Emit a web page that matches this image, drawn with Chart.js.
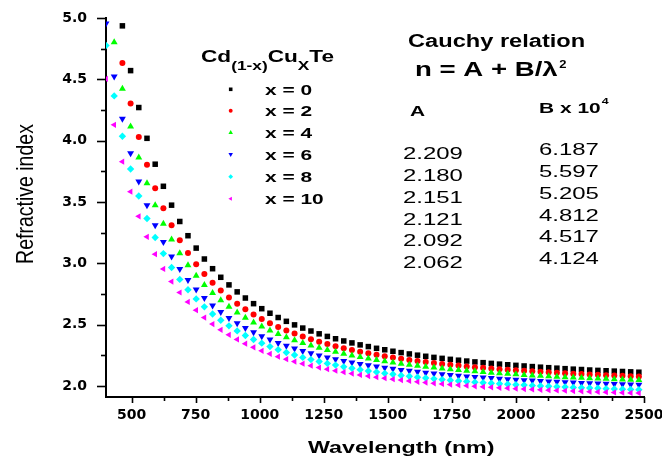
<!DOCTYPE html>
<html>
<head>
<meta charset="utf-8">
<script src="https://cdn.jsdelivr.net/npm/chart.js@4.4.0/dist/chart.umd.min.js"></script>
<style>
  html, body { margin: 0; padding: 0; background: #fff; }
</style>
</head>
<body>
<canvas id="cauchyChart" width="662" height="460"></canvas>
<script>
// wavelength grid (nm)
const wavelength = [
  400, 432, 464, 496, 528, 560, 592, 624, 656, 688,
  720, 752, 784, 816, 848, 880, 912, 944, 976, 1008,
  1040, 1072, 1104, 1136, 1168, 1200, 1232, 1264, 1296, 1328,
  1360, 1392, 1424, 1456, 1488, 1520, 1552, 1584, 1616, 1648,
  1680, 1712, 1744, 1776, 1808, 1840, 1872, 1904, 1936, 1968,
  2000, 2032, 2064, 2096, 2128, 2160, 2192, 2224, 2256, 2288,
  2320, 2352, 2384, 2416, 2448, 2480
];

// refractive index per composition (null = off scale)
const nX0 = [
  null, null, 4.936, 4.571, 4.270, 4.019, 3.808, 3.628, 3.474, 3.341,
  3.225, 3.124, 3.035, 2.956, 2.886, 2.824, 2.767, 2.717, 2.671, 2.630,
  2.593, 2.558, 2.527, 2.498, 2.472, 2.448, 2.425, 2.404, 2.385, 2.367,
  2.351, 2.335, 2.321, 2.307, 2.295, 2.283, 2.272, 2.261, 2.251, 2.242,
  2.233, 2.225, 2.217, 2.210, 2.203, 2.196, 2.190, 2.184, 2.178, 2.173,
  2.168, 2.163, 2.158, 2.153, 2.149, 2.145, 2.141, 2.137, 2.134, 2.130,
  2.127, 2.124, 2.121, 2.118, 2.115, 2.112
];
const nX2 = [
  null, null, 4.633, 4.302, 4.030, 3.803, 3.611, 3.449, 3.310, 3.189,
  3.085, 2.993, 2.912, 2.841, 2.778, 2.721, 2.670, 2.625, 2.583, 2.546,
  2.512, 2.481, 2.453, 2.427, 2.403, 2.381, 2.361, 2.342, 2.324, 2.308,
  2.293, 2.279, 2.266, 2.254, 2.242, 2.232, 2.222, 2.212, 2.203, 2.195,
  2.187, 2.180, 2.172, 2.166, 2.159, 2.153, 2.148, 2.142, 2.137, 2.132,
  2.128, 2.123, 2.119, 2.115, 2.111, 2.107, 2.104, 2.100, 2.097, 2.094,
  2.091, 2.088, 2.085, 2.083, 2.080, 2.078
];
const nX4 = [
  null, 4.802, 4.424, 4.116, 3.863, 3.652, 3.474, 3.323, 3.194, 3.082,
  2.984, 2.899, 2.824, 2.758, 2.699, 2.646, 2.599, 2.557, 2.518, 2.484,
  2.452, 2.423, 2.397, 2.373, 2.351, 2.330, 2.311, 2.294, 2.278, 2.263,
  2.249, 2.236, 2.223, 2.212, 2.201, 2.191, 2.182, 2.173, 2.165, 2.157,
  2.150, 2.143, 2.136, 2.130, 2.124, 2.119, 2.113, 2.108, 2.103, 2.099,
  2.095, 2.090, 2.086, 2.083, 2.079, 2.076, 2.072, 2.069, 2.066, 2.063,
  2.060, 2.058, 2.055, 2.053, 2.050, 2.048
];
const nX6 = [
  4.955, 4.524, 4.178, 3.897, 3.666, 3.473, 3.311, 3.173, 3.055, 2.953,
  2.864, 2.786, 2.717, 2.657, 2.603, 2.555, 2.512, 2.473, 2.438, 2.406,
  2.378, 2.351, 2.327, 2.305, 2.285, 2.266, 2.249, 2.233, 2.218, 2.204,
  2.192, 2.180, 2.169, 2.158, 2.149, 2.140, 2.131, 2.123, 2.115, 2.108,
  2.102, 2.095, 2.089, 2.083, 2.078, 2.073, 2.068, 2.064, 2.059, 2.055,
  2.051, 2.047, 2.044, 2.040, 2.037, 2.034, 2.031, 2.028, 2.025, 2.022,
  2.020, 2.018, 2.015, 2.013, 2.011, 2.009
];
const nX8 = [
  4.776, 4.365, 4.036, 3.769, 3.549, 3.365, 3.210, 3.079, 2.966, 2.869,
  2.784, 2.710, 2.645, 2.587, 2.536, 2.490, 2.449, 2.412, 2.379, 2.349,
  2.321, 2.296, 2.273, 2.252, 2.233, 2.215, 2.199, 2.184, 2.170, 2.156,
  2.144, 2.133, 2.122, 2.113, 2.103, 2.095, 2.086, 2.079, 2.072, 2.065,
  2.058, 2.052, 2.047, 2.041, 2.036, 2.031, 2.027, 2.022, 2.018, 2.014,
  2.010, 2.007, 2.003, 2.000, 1.997, 1.994, 1.991, 1.988, 1.986, 1.983,
  1.981, 1.978, 1.976, 1.974, 1.972, 1.970
];
const nX10 = [
  4.504, 4.129, 3.829, 3.584, 3.383, 3.216, 3.074, 2.954, 2.851, 2.762,
  2.685, 2.618, 2.558, 2.505, 2.458, 2.417, 2.379, 2.345, 2.315, 2.287,
  2.262, 2.239, 2.218, 2.199, 2.182, 2.165, 2.150, 2.137, 2.124, 2.112,
  2.101, 2.090, 2.081, 2.072, 2.063, 2.055, 2.048, 2.041, 2.034, 2.028,
  2.022, 2.017, 2.011, 2.007, 2.002, 1.997, 1.993, 1.989, 1.985, 1.982,
  1.978, 1.975, 1.972, 1.969, 1.966, 1.963, 1.961, 1.958, 1.956, 1.953,
  1.951, 1.949, 1.947, 1.945, 1.943, 1.942
];

// composition labels and Cauchy fit coefficients
const compositions = [0, 2, 4, 6, 8, 10];
const cauchyA = [2.209, 2.180, 2.151, 2.121, 2.092, 2.062];
const cauchyB = [6.187, 5.597, 5.205, 4.812, 4.517, 4.124];

// axis ticks (major every 250 nm / 0.5, minor in between)
const xTickValues = [500, 625, 750, 875, 1000, 1125, 1250, 1375, 1500, 1625, 1750, 1875, 2000, 2125, 2250, 2375, 2500];
const yTickValues = [2.0, 2.25, 2.5, 2.75, 3.0, 3.25, 3.5, 3.75, 4.0, 4.25, 4.5, 4.75, 5.0];

const seriesValues = [nX0, nX2, nX4, nX6, nX8, nX10];
const markers = [
  { color: '#000000', style: 'rect', radius: 3.9, rotation: 0 },
  { color: '#ff0000', style: 'circle', radius: 3.0, rotation: 0 },
  { color: '#00ff00', style: 'triangle', radius: 4.0, rotation: 0 },
  { color: '#0000ff', style: 'triangle', radius: 4.0, rotation: 180 },
  { color: '#00ffff', style: 'rectRot', radius: 3.7, rotation: 0 },
  { color: '#ff00ff', style: 'triangle', radius: 3.6, rotation: 270 }
];

const datasets = seriesValues.map((vals, k) => ({
  label: 'x = ' + compositions[k],
  data: wavelength.map((w, i) => ({ x: w, y: vals[i] })).filter(p => p.y !== null),
  showLine: false,
  pointStyle: markers[k].style,
  pointRotation: markers[k].rotation,
  pointRadius: markers[k].radius,
  pointBackgroundColor: markers[k].color,
  pointBorderWidth: 0,
  order: 6 - k,
  clip: 0
}));

const SANS = '"Liberation Sans", Arial, sans-serif';

// horizontally stretched text, returns drawn width
function stretchText(ctx, str, x, y, font, sx) {
  ctx.save();
  ctx.font = font;
  ctx.textAlign = 'left';
  ctx.textBaseline = 'alphabetic';
  ctx.translate(x, y);
  ctx.scale(sx, 1);
  ctx.fillText(str, 0, 0);
  const w = ctx.measureText(str).width * sx;
  ctx.restore();
  return w;
}

const tickMarks = {
  id: 'tickMarks',
  afterDraw(chart) {
    const { ctx, chartArea, scales } = chart;
    ctx.save();
    ctx.strokeStyle = '#000';
    ctx.lineWidth = 1.6;
    scales.x.ticks.forEach(t => {
      const px = Math.round(scales.x.getPixelForValue(t.value)) + 0.5;
      const len = t.value % 250 === 0 ? 6 : 4;
      ctx.beginPath();
      ctx.moveTo(px, chartArea.bottom);
      ctx.lineTo(px, chartArea.bottom + len);
      ctx.stroke();
    });
    scales.y.ticks.forEach(t => {
      const py = Math.round(scales.y.getPixelForValue(t.value)) + 0.5;
      const len = Math.abs(t.value * 2 - Math.round(t.value * 2)) < 1e-6 ? 9 : 5;
      ctx.beginPath();
      ctx.moveTo(chartArea.left, py);
      ctx.lineTo(chartArea.left - len, py);
      ctx.stroke();
    });
    ctx.restore();
  }
};

const figureText = {
  id: 'figureText',
  afterDraw(chart) {
    const ctx = chart.ctx;
    ctx.save();
    ctx.fillStyle = '#000';

    // y axis title
    ctx.save();
    ctx.translate(33, 194);
    ctx.rotate(-Math.PI / 2);
    ctx.scale(1, 1.2);
    ctx.font = '19.5px ' + SANS;
    ctx.textAlign = 'center';
    ctx.textBaseline = 'alphabetic';
    ctx.fillText('Refractive index', 0, 0);
    ctx.restore();

    // x axis title
    stretchText(ctx, 'Wavelength (nm)', 308, 453, 'bold 16.5px ' + SANS, 1.41);

    // legend title Cd(1-x)CuXTe
    let lx = 201;
    lx += stretchText(ctx, 'Cd', lx, 62, 'bold 17px ' + SANS, 1.33);
    lx += stretchText(ctx, '(1-x)', lx, 70, 'bold 13px ' + SANS, 1.33);
    lx += stretchText(ctx, 'Cu', lx, 62, 'bold 17px ' + SANS, 1.33);
    lx += stretchText(ctx, 'X', lx, 70, 'bold 13px ' + SANS, 1.33);
    stretchText(ctx, 'Te', lx, 62, 'bold 17px ' + SANS, 1.33);

    // legend rows
    const rowY = [89.3, 110.7, 132.7, 154.3, 176.7, 198.7];
    compositions.forEach((c, k) => {
      const m = markers[k];
      ctx.fillStyle = m.color;
      Chart.helpers.drawPoint(ctx, {
        pointStyle: m.style,
        rotation: m.rotation,
        radius: m.radius * 0.65,
        borderWidth: 0
      }, 230.7, rowY[k]);
      ctx.fillStyle = '#000';
      stretchText(ctx, 'x = ' + c, 265, rowY[k] + 5.6, 'bold 15.5px ' + SANS, 1.35);
    });

    // Cauchy relation block
    stretchText(ctx, 'Cauchy relation', 408, 46.7, 'bold 17.5px ' + SANS, 1.35);
    const wn = stretchText(ctx, 'n = A + B/\u03bb', 415, 76, 'bold 20px ' + SANS, 1.38);
    stretchText(ctx, '2', 415 + wn + 1.5, 68, 'bold 10px ' + SANS, 1.3);
    stretchText(ctx, 'A', 410, 116, 'bold 15.5px ' + SANS, 1.35);
    const wb = stretchText(ctx, 'B x 10', 539, 112.7, 'bold 15.5px ' + SANS, 1.35);
    stretchText(ctx, '4', 539 + wb + 1, 103.5, 'bold 9.5px ' + SANS, 1.3);

    const baseA = [159.3, 181, 202.7, 224.5, 246.2, 268];
    cauchyA.forEach((a, k) => {
      stretchText(ctx, a.toFixed(3), 403, baseA[k], '16.5px ' + SANS, 1.45);
      stretchText(ctx, cauchyB[k].toFixed(3), 539, baseA[k] - 4, '16.5px ' + SANS, 1.45);
    });

    ctx.restore();
  }
};

const cauchyChart = new Chart(document.getElementById('cauchyChart'), {
  type: 'scatter',
  data: { datasets: datasets },
  options: {
    responsive: false,
    animation: false,
    events: [],
    layout: { padding: { left: 0, right: 18, top: 18, bottom: 0 } },
    plugins: {
      legend: { display: false },
      tooltip: { enabled: false }
    },
    scales: {
      x: {
        type: 'linear',
        min: 400,
        max: 2500,
        afterBuildTicks: scale => { scale.ticks = xTickValues.map(v => ({ value: v })); },
        afterFit: scale => { scale.height = 63; scale.paddingLeft = 0; scale.paddingRight = 0; },
        grid: { display: false, drawTicks: false },
        border: { display: true, color: '#000', width: 2 },
        ticks: {
          autoSkip: false,
          maxRotation: 0,
          padding: 10,
          color: '#000',
          font: { family: 'DejaVu Sans', weight: 'bold', size: 14 },
          callback: v => (v % 250 === 0 ? String(v) : '')
        }
      },
      y: {
        type: 'linear',
        min: 1.91,
        max: 5.0,
        afterBuildTicks: scale => { scale.ticks = yTickValues.map(v => ({ value: v })); },
        afterFit: scale => { scale.width = 106; scale.paddingTop = 0; scale.paddingBottom = 0; },
        grid: { display: false, drawTicks: false },
        border: { display: true, color: '#000', width: 2 },
        ticks: {
          autoSkip: false,
          padding: 19,
          color: '#000',
          font: { family: 'DejaVu Sans', weight: 'bold', size: 14 },
          callback: v => (Math.abs(v * 2 - Math.round(v * 2)) < 1e-6 ? v.toFixed(1) : '')
        }
      }
    }
  },
  plugins: [tickMarks, figureText]
});
</script>
</body>
</html>
